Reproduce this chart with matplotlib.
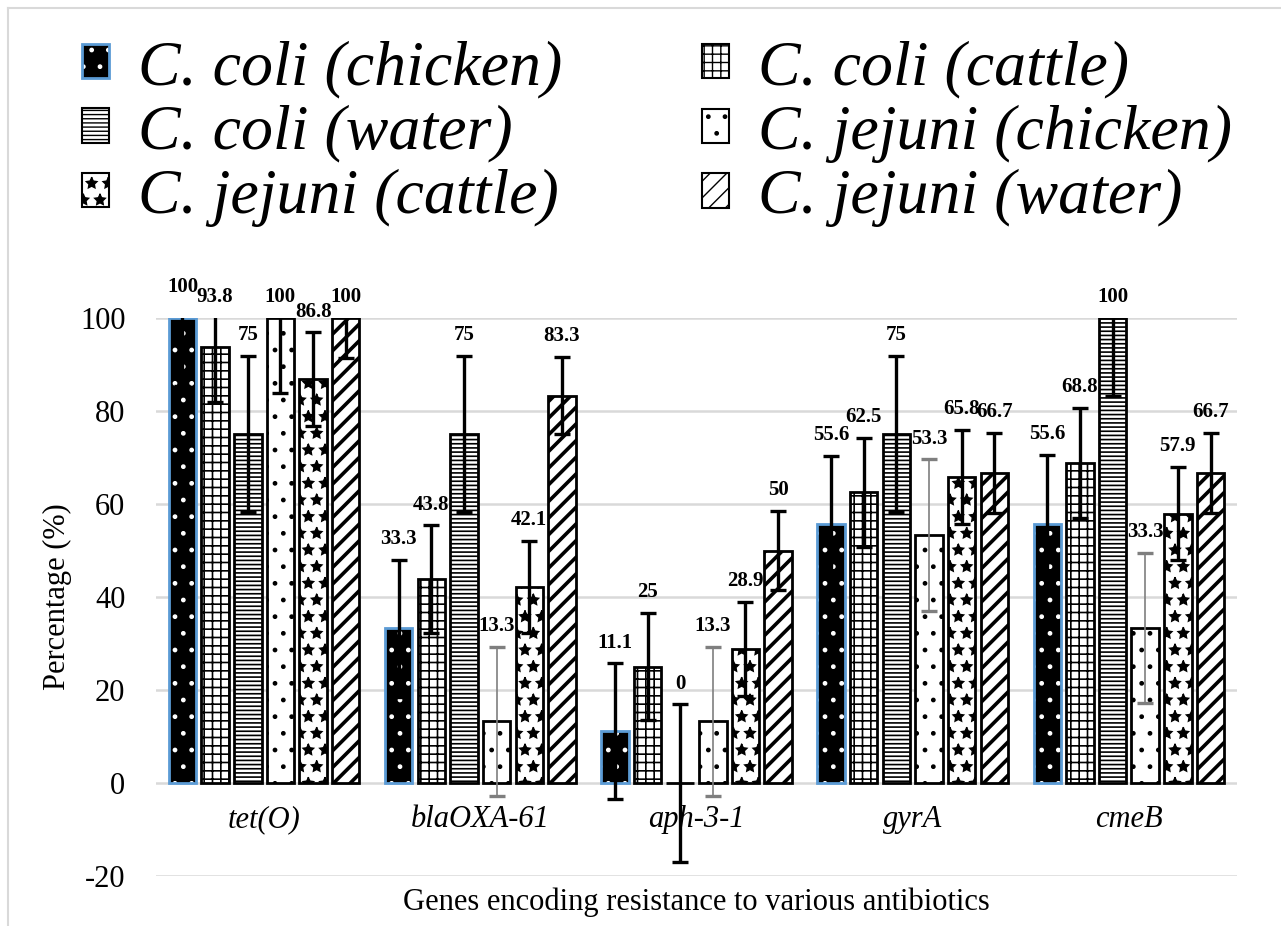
import numpy as np
import matplotlib.pyplot as plt
from matplotlib.patches import Patch
from matplotlib.lines import Line2D

plt.rcParams['font.family'] = ['Liberation Serif', 'DejaVu Serif']
plt.rcParams['axes.unicode_minus'] = False

genes = ['tet(O)', 'blaOXA-61', 'aph-3-1', 'gyrA', 'cmeB']
series = ['C. coli (chicken)', 'C. coli (cattle)', 'C. coli (water)',
          'C. jejuni (chicken)', 'C. jejuni (cattle)', 'C. jejuni (water)']

# percentage of isolates carrying each gene
coli_chicken = [100, 33.3, 11.1, 55.6, 55.6]
coli_cattle = [93.8, 43.8, 25, 62.5, 68.8]
coli_water = [75, 75, 0, 75, 100]
jejuni_chicken = [100, 13.3, 13.3, 53.3, 33.3]
jejuni_cattle = [86.8, 42.1, 28.9, 65.8, 57.9]
jejuni_water = [100, 83.3, 50, 66.7, 66.7]

# error bar half-widths
coli_chicken_err = [14.7, 14.7, 14.6, 14.8, 14.9]
coli_cattle_err = [11.8, 11.6, 11.5, 11.8, 11.8]
coli_water_err = [16.8, 16.8, 16.9, 16.8, 16.7]
jejuni_chicken_err = [16.1, 16.0, 16.0, 16.3, 16.2]
jejuni_cattle_err = [10.1, 9.9, 10.1, 10.1, 10.0]
jejuni_water_err = [8.5, 8.3, 8.5, 8.6, 8.6]

values = [coli_chicken, coli_cattle, coli_water,
          jejuni_chicken, jejuni_cattle, jejuni_water]
errors = [coli_chicken_err, coli_cattle_err, coli_water_err,
          jejuni_chicken_err, jejuni_cattle_err, jejuni_water_err]

# (face, edge, hatch, hatch linewidth)
styles = [
    ('black', 'white', '.', 1.0),
    ('white', 'black', '++', 1.2),
    ('white', 'black', '----', 1.2),
    ('white', 'black', '.', 1.0),
    ('white', 'black', '*', 1.0),
    ('white', 'black', '//', 2.6),
]
blue_edge = '#5B9BD5'

fig = plt.figure(figsize=(12.81, 9.26), dpi=100)
ax = fig.add_axes([156 / 1281, 1 - 876 / 926, (1237 - 156) / 1281, (876 - 318) / 926])

# category labels sit on the zero line
for s in ax.spines.values():
    s.set_visible(False)
ax.spines['bottom'].set_position(('data', 0))

x = np.arange(len(genes))
step = 0.151
width = 0.127
handles = []

for i, (vals, errs) in enumerate(zip(values, errors)):
    xs = x + (i - 2.5) * step
    face, edge, hatch, hlw = styles[i]
    if i == 0:
        bars = ax.bar(xs, vals, width, color=face, edgecolor=edge, hatch=hatch,
                      linewidth=0, zorder=2)
        ax.bar(xs, vals, width, fill=False, edgecolor=blue_edge, linewidth=2, zorder=2)
        h = (Patch(facecolor=face, edgecolor=edge, hatch=hatch, linewidth=0),
             Patch(fill=False, edgecolor=blue_edge, linewidth=2))
    else:
        bars = ax.bar(xs, vals, width, color=face, edgecolor=edge, hatch=hatch,
                      linewidth=2, zorder=2)
        h = Patch(facecolor=face, edgecolor=edge, hatch=hatch, linewidth=1.5)
    for b in bars:
        if hasattr(b, 'set_hatch_linewidth'):
            b.set_hatch_linewidth(hlw)
    handles.append(h)

    # error bars: C. jejuni (chicken) drawn with a thin stem except tet(O)
    for j in range(len(genes)):
        thin = (i == 3 and j > 0)
        ax.errorbar(xs[j], vals[j], yerr=errs[j], fmt='none',
                    ecolor='#7f7f7f' if thin else 'black',
                    elinewidth=1.2 if thin else 2.4,
                    capsize=6, capthick=2.4, zorder=3)
        top = min(vals[j] + errs[j], 100)
        lift = 22 if (i, j) == (0, 0) else 15
        ax.annotate(f'{vals[j]:g}', (xs[j], top), xytext=(0, lift),
                    textcoords='offset points', ha='center', va='center',
                    fontsize=15, fontweight='bold', annotation_clip=False)

ax.set_xlim(-0.5, 4.5)
ax.set_ylim(-20, 100)
ax.set_yticks(np.arange(-20, 101, 20))
ax.set_xticks(x)
ax.set_xticklabels(genes, fontstyle='italic')
ax.yaxis.grid(True, color='#D9D9D9', linewidth=1.8)
ax.set_axisbelow(True)
ax.tick_params(axis='both', length=0, labelsize=22)
ax.tick_params(axis='y', pad=22)
ax.tick_params(axis='x', pad=16)

ax.set_ylabel('Percentage (%)', fontsize=22)
ax.yaxis.set_label_coords(-0.078, 0.5)
ax.set_xlabel('Genes encoding resistance to various antibiotics', fontsize=22)
ax.xaxis.set_label_coords(0.5, -0.02)

order = [0, 2, 4, 1, 3, 5]
fig.legend([handles[k] for k in order], [series[k] for k in order],
           loc='upper left', bbox_to_anchor=(82 / 1281, 1 - 40 / 926),
           ncol=2, frameon=False,
           prop=dict(family='Liberation Serif', style='italic', size=46),
           handlelength=0.42, handleheight=0.45, handletextpad=0.45,
           labelspacing=0.1, columnspacing=2.2, borderpad=0, borderaxespad=0)

# light chart-area border
fig.add_artist(Line2D([8 / 1281, 1], [1 - 8 / 926] * 2, transform=fig.transFigure,
                      color='#D9D9D9', linewidth=1.5))
fig.add_artist(Line2D([8 / 1281] * 2, [0, 1 - 8 / 926], transform=fig.transFigure,
                      color='#D9D9D9', linewidth=1.5))

fig.savefig('out.png', dpi=100)
